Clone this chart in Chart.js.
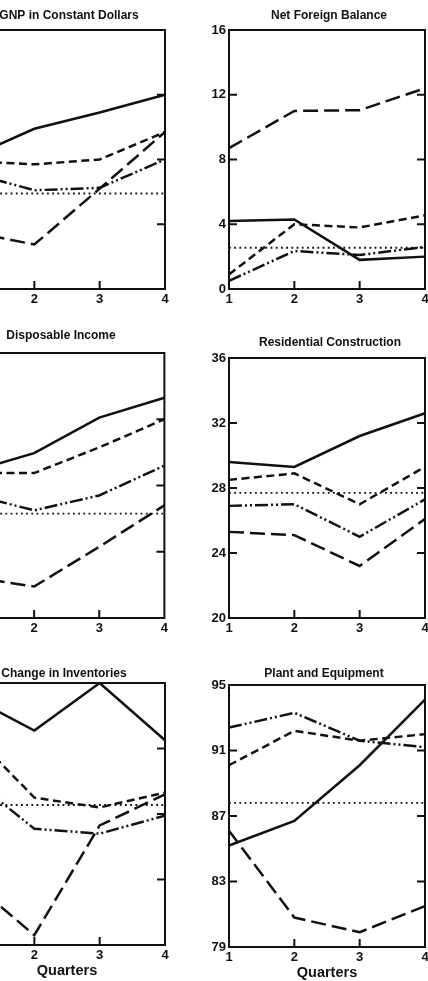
<!DOCTYPE html>
<html>
<head>
<meta charset="utf-8">
<script src="https://cdn.jsdelivr.net/npm/chart.js@4"></script>
<style>
  html, body { margin: 0; padding: 0; background: #fff; overflow: hidden; }
  body { width: 428px; height: 981px; position: relative; }
  canvas { position: absolute; }
</style>
</head>
<body>
<canvas id="gnp" width="236" height="301" style="left:-49px; top:8px"></canvas>
<canvas id="netForeign" width="236" height="301" style="left:211px; top:8px"></canvas>
<canvas id="income" width="220" height="310" style="left:-49px; top:328px"></canvas>
<canvas id="residential" width="238" height="303" style="left:211px; top:335px"></canvas>
<canvas id="inventories" width="226" height="315" style="left:-49px; top:666px"></canvas>
<canvas id="plant" width="226" height="317" style="left:211px; top:666px"></canvas>
<script>
var quarters = ['1', '2', '3', '4'];

// GNP in Constant Dollars (axis labels are cut off in the original)
var gnpSolid = [8.1, 9.9, 10.9, 12.0];
var gnpLongDash = [3.55, 2.75, 6.2, 9.7];
var gnpDash = [7.9, 7.7, 8.0, 9.7];
var gnpDashDot = [7.2, 6.1, 6.25, 8.0];
var gnpDotted = [5.9, 5.9, 5.9, 5.9];

// Net Foreign Balance
var netSolid = [4.2, 4.3, 1.8, 2.0];
var netLongDash = [8.7, 11.0, 11.05, 12.4];
var netDash = [0.9, 4.0, 3.8, 4.55];
var netDashDot = [0.5, 2.35, 2.1, 2.6];
var netDotted = [2.55, 2.55, 2.55, 2.55];

// Disposable Income
var incSolid = [28.8, 29.95, 32.1, 33.3];
var incLongDash = [22.5, 21.9, 24.3, 26.8];
var incDash = [28.75, 28.75, 30.3, 32.0];
var incDashDot = [27.5, 26.5, 27.4, 29.2];
var incDotted = [26.3, 26.3, 26.3, 26.3];

// Residential Construction
var resSolid = [29.6, 29.3, 31.2, 32.6];
var resLongDash = [25.3, 25.1, 23.2, 26.1];
var resDash = [28.5, 28.9, 27.0, 29.3];
var resDashDot = [26.9, 27.0, 25.0, 27.3];
var resDotted = [27.7, 27.7, 27.7, 27.7];

// Change in Inventories
var invSolid = [94.2, 92.1, 95.0, 91.5];
var invLongDash = [83.0, 79.6, 86.3, 88.2];
var invDash = [92.1, 88.0, 87.4, 88.3];
var invDashDot = [89.3, 86.1, 85.8, 86.9];
var invDotted = [87.55, 87.55, 87.55, 87.55];

// Plant and Equipment
var plantSolid = [85.2, 86.7, 90.1, 94.1];
var plantLongDash = [86.1, 80.8, 79.9, 81.5];
var plantDash = [90.1, 92.2, 91.6, 92.0];
var plantDashDot = [92.4, 93.3, 91.6, 91.2];
var plantDotted = [87.8, 87.8, 87.8, 87.8];

var ticksNet = [0, 4, 8, 12, 16];
var ticksRes = [20, 24, 28, 32, 36];
var ticksPlant = [79, 83, 87, 91, 95];

var ink = '#111';
var fontFamily = "'Liberation Sans', Arial, sans-serif";

// frame around the plot plus short inward tick marks
var framePlugin = {
    id: 'frame',
    afterDatasetsDraw: function (chart) {
        var ctx = chart.ctx;
        var a = chart.chartArea;
        var x = chart.scales.x, y = chart.scales.y;
        ctx.save();
        ctx.strokeStyle = ink;
        ctx.lineWidth = 2;
        ctx.strokeRect(a.left, a.top, a.right - a.left, a.bottom - a.top);
        ctx.beginPath();
        y.ticks.forEach(function (t) {
            if (t.value > y.min && t.value < y.max) {
                var py = y.getPixelForValue(t.value);
                ctx.moveTo(a.left, py); ctx.lineTo(a.left + 8, py);
                ctx.moveTo(a.right - 8, py); ctx.lineTo(a.right, py);
            }
        });
        for (var i = 1; i < x.ticks.length - 1; i++) {
            var px = x.getPixelForTick(i);
            ctx.moveTo(px, a.bottom); ctx.lineTo(px, a.bottom - 8);
        }
        ctx.stroke();
        ctx.restore();
    }
};

function line(data, dash, width) {
    return {
        data: data,
        borderColor: ink,
        borderWidth: width || 2.5,
        borderDash: dash,
        borderCapStyle: 'butt',
        pointRadius: 0,
        tension: 0,
        fill: false
    };
}

// rightGap: blank space right of the plot (also shifts the centred title)
function drawPanel(id, title, series, tickValues, titleGap, xHeight, showQuarters, rightGap) {
    var ctx = document.getElementById(id).getContext('2d');
    new Chart(ctx, {
        type: 'line',
        data: {
            labels: quarters,
            datasets: [
                line(series[0], []),
                line(series[1], [15, 6]),
                line(series[2], [8, 4.5]),
                line(series[3], [13, 3, 2, 3, 2, 3]),
                line(series[4], [1.8, 3.4], 1.9)
            ]
        },
        options: {
            responsive: false,
            animation: false,
            layout: { padding: 0 },
            plugins: {
                legend: { display: false },
                tooltip: { enabled: false },
                title: {
                    display: true,
                    text: title,
                    color: ink,
                    font: { family: fontFamily, size: 12, weight: 'bold' },
                    padding: { top: 0, bottom: titleGap }
                }
            },
            scales: {
                x: {
                    offset: false,
                    grid: { display: false, drawTicks: false, tickLength: 0 },
                    border: { display: false },
                    ticks: {
                        color: ink,
                        padding: 3,
                        maxRotation: 0,
                        font: { family: fontFamily, size: 13, weight: 'bold' }
                    },
                    title: {
                        display: showQuarters,
                        text: 'Quarters',
                        color: ink,
                        padding: { top: 0, bottom: 1 },
                        font: { family: fontFamily, size: 14.5, weight: 'bold' }
                    },
                    afterFit: function (scale) { scale.height = xHeight; }
                },
                y: {
                    min: tickValues[0],
                    max: tickValues[tickValues.length - 1],
                    grid: { display: false, drawTicks: false, tickLength: 0 },
                    border: { display: false },
                    afterBuildTicks: function (scale) {
                        scale.ticks = tickValues.map(function (v) { return { value: v }; });
                    },
                    ticks: {
                        color: ink,
                        padding: 3,
                        font: { family: fontFamily, size: 13, weight: 'bold' }
                    },
                    afterFit: function (scale) { scale.width = 18; }
                },
                yRight: {
                    position: 'right',
                    grid: { display: false, drawTicks: false },
                    border: { display: false },
                    ticks: { display: false },
                    afterFit: function (scale) { scale.width = rightGap; }
                }
            }
        },
        plugins: [framePlugin]
    });
}

drawPanel('gnp', 'GNP in Constant Dollars',
    [gnpSolid, gnpLongDash, gnpDash, gnpDashDot, gnpDotted], ticksNet, 7.6, 20, false, 22);
drawPanel('netForeign', 'Net Foreign Balance',
    [netSolid, netLongDash, netDash, netDashDot, netDotted], ticksNet, 7.6, 20, false, 22);
drawPanel('income', 'Disposable Income',
    [incSolid, incLongDash, incDash, incDashDot, incDotted], ticksRes, 10.6, 20, false, 6);
drawPanel('residential', 'Residential Construction',
    [resSolid, resLongDash, resDash, resDashDot, resDotted], ticksRes, 8.6, 20, false, 24);
drawPanel('inventories', 'Change in Inventories',
    [invSolid, invLongDash, invDash, invDashDot, invDotted], ticksPlant, 2.6, 36, true, 12);
drawPanel('plant', 'Plant and Equipment',
    [plantSolid, plantLongDash, plantDash, plantDashDot, plantDotted], ticksPlant, 4.6, 36, true, 12);
</script>
</body>
</html>
